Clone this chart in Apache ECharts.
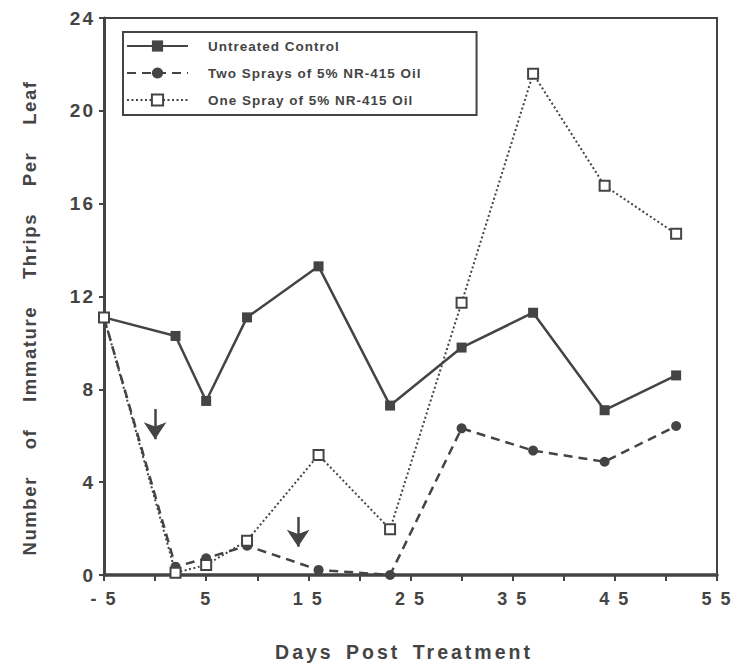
<!DOCTYPE html>
<html>
<head>
<meta charset="utf-8">
<script src="https://cdn.jsdelivr.net/npm/echarts@6/dist/echarts.min.js"></script>
<style>
html,body{margin:0;padding:0;background:#fff;}
#main{width:738px;height:664px;}
#main text[style*="19px"], #main text[style*="18px"]{letter-spacing:2px;}
#main text[style*="18.5px"]{letter-spacing:1.6px;word-spacing:20px;}
#main text[style*="19.5px"]{letter-spacing:3px;word-spacing:4px;}
#main text[style*="13.5px"]{letter-spacing:1px;}
</style>
</head>
<body>
<div id="main"></div>
<script>
// Days post treatment (x)
const days = [-5, 2, 5, 9, 16, 23, 30, 37, 44, 51];
// Series values
const untreated  = [11.1, 10.3, 7.5, 11.1, 13.3, 7.3, 9.8, 11.3, 7.1, 8.6];
const twoSprays  = [11.1, 0.36, 0.72, 1.26, 0.22, 0.0, 6.32, 5.36, 4.88, 6.42];
const oneSpray   = [11.1, 0.1, 0.43, 1.48, 5.17, 1.97, 11.73, 21.6, 16.77, 14.7];
// Series names
const seriesNames = ['Untreated Control', 'Two Sprays of 5% NR-415 Oil', 'One Spray of 5% NR-415 Oil'];
// Spray arrows (day, from value, to value)
const arrowDays = [0, 14];
const arrowFrom = [7.15, 2.5];
const arrowTo   = [5.85, 1.22];
// Tick labels
const xLabelValues = [-5, 5, 15, 25, 35, 45, 55];
const xTickLabels  = ['- 5', '5', '1 5', '2 5', '3 5', '4 5', '5 5'];
const yTickLabels  = ['0', '4', '8', '12', '16', '20', '24'];
const xTitle = 'Days Post Treatment';
const yTitle = 'Number of Immature Thrips Per Leaf';

const INK = '#444';
const chart = echarts.init(document.getElementById('main'), null, {renderer: 'svg'});

const toPairs = arr => days.map((d, i) => [d, arr[i]]);

chart.setOption({
  animation: false,
  backgroundColor: '#fff',
  grid: {left: 104, right: 21, top: 18, bottom: 89, show: true, borderColor: INK, borderWidth: 2, backgroundColor: 'transparent'},
  xAxis: {
    type: 'value', min: -5, max: 55, interval: 5,
    axisLine: {show: true, onZero: false, lineStyle: {color: INK, width: 3.5}},
    axisTick: {show: true, inside: false, length: 6, lineStyle: {color: INK, width: 2}},
    splitLine: {show: false},
    axisLabel: {
      margin: 15, color: INK, fontFamily: 'Arial', fontWeight: 'bold', fontSize: 18,
      formatter: v => { const i = xLabelValues.indexOf(v); return i >= 0 ? xTickLabels[i] : ''; }
    }
  },
  yAxis: {
    type: 'value', min: 0, max: 24, interval: 4,
    axisLine: {show: true, onZero: false, lineStyle: {color: INK, width: 3}},
    axisTick: {show: true, inside: false, length: 5, lineStyle: {color: INK, width: 2}},
    splitLine: {show: false},
    axisLabel: {
      margin: 9, color: INK, fontFamily: 'Arial', fontWeight: 'bold', fontSize: 19,
      formatter: v => yTickLabels[v / 4]
    }
  },
  legend: {
    orient: 'vertical', left: 123, top: 32,
    itemWidth: 61, itemHeight: 14, itemGap: 13,
    padding: [7, 82, 8, 3],
    borderColor: INK, borderWidth: 2,
    selectedMode: false,
    data: seriesNames,
    textStyle: {fontFamily: 'Arial', fontWeight: 'bold', fontSize: 13.5, color: INK, padding: [0, 0, 0, 15]}
  },
  graphic: [
    {type: 'text', x: 29, y: 318, rotation: Math.PI / 2,
     style: {text: yTitle, fill: INK, font: 'bold 18.5px Arial', align: 'center', verticalAlign: 'middle'}},
    {type: 'text', x: 404, y: 652,
     style: {text: xTitle, fill: INK, font: 'bold 19.5px Arial', align: 'center', verticalAlign: 'middle'}}
  ],
  series: [
    {
      name: seriesNames[0], type: 'line', data: toPairs(untreated), z: 3,
      symbol: 'rect', symbolSize: 10,
      lineStyle: {color: INK, width: 2.5, type: 'solid'},
      itemStyle: {color: INK},
      markLine: {
        silent: true, animation: false,
        symbol: ['none', 'arrow'], symbolSize: 17,
        label: {show: false},
        lineStyle: {color: INK, width: 2.5, type: 'solid'},
        emphasis: {disabled: true},
        data: arrowDays.map((d, i) => [{coord: [d, arrowFrom[i]]}, {coord: [d, arrowTo[i]]}])
      }
    },
    {
      name: seriesNames[1], type: 'line', data: toPairs(twoSprays), z: 4,
      symbol: 'circle', symbolSize: 10,
      lineStyle: {color: INK, width: 2.5, type: [9, 6]},
      itemStyle: {color: INK}
    },
    {
      name: seriesNames[2], type: 'line', data: toPairs(oneSpray), z: 5,
      symbol: 'rect', symbolSize: 10,
      lineStyle: {color: INK, width: 2, type: [2, 2.5]},
      itemStyle: {color: '#fff', borderColor: INK, borderWidth: 2}
    }
  ]
});
</script>
</body>
</html>
